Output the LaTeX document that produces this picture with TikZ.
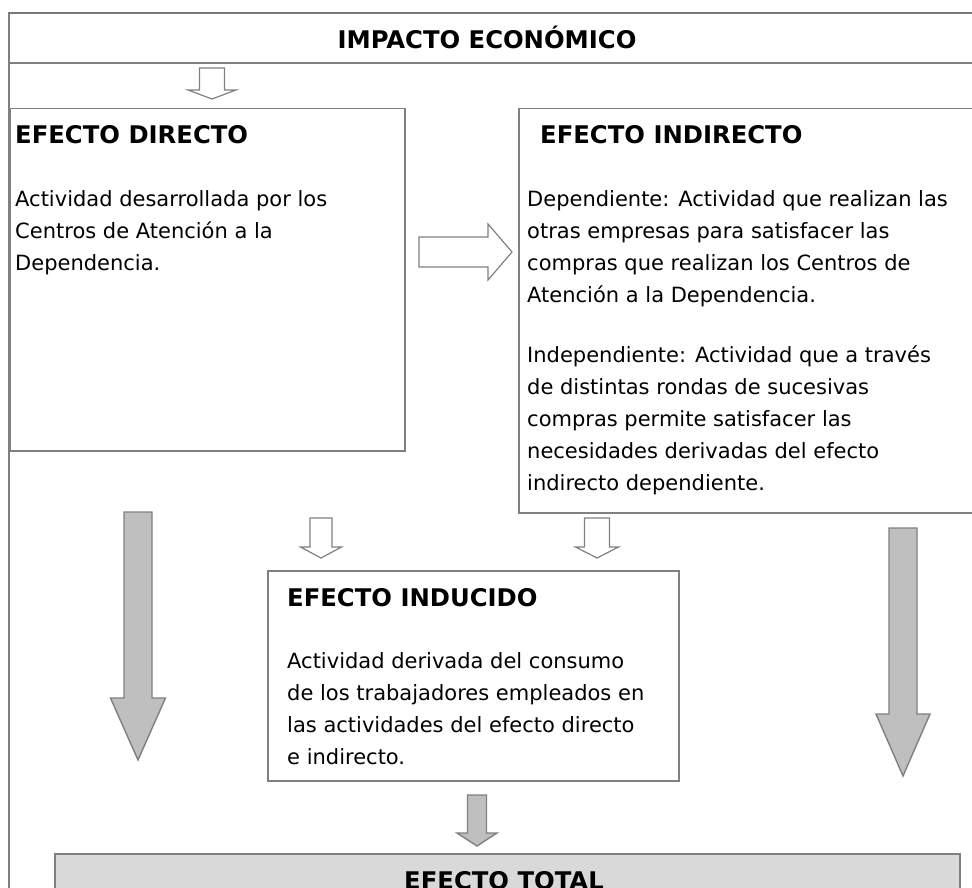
\documentclass[tikz,border=0pt]{standalone}
\usepackage{fontspec}
\setmainfont{DejaVu Sans}
\definecolor{lineg}{RGB}{128,128,128}
\definecolor{topg}{RGB}{120,120,120}
\definecolor{arrg}{RGB}{191,191,191}
\definecolor{totg}{RGB}{217,217,217}
\newcommand\bdown[7]{%
  \draw[#1] (#2-#6,-#3) -- (#2+#6,-#3) -- (#2+#6,-#4) -- (#2+#7,-#4) -- (#2,-#5)
    -- (#2-#7,-#4) -- (#2-#6,-#4) -- cycle;}
\tikzset{
  boxs/.style={draw=lineg, line width=1.5pt, fill=white},
  hollow/.style={draw=lineg, line width=1.2pt, fill=white, line join=miter},
  grayarr/.style={draw=lineg, line width=1.4pt, fill=arrg, line join=miter},
  ttl/.style={font=\bfseries\fontsize{24.3}{29}\selectfont, inner sep=0pt},
  bodytxt/.style={font=\fontsize{21}{32}\selectfont, align=left, inner sep=0pt},
}
\begin{document}
\begin{tikzpicture}[x=1pt,y=1pt]
\useasboundingbox (0,0) rectangle (972,-888);
\clip (0,0) rectangle (972,-888);
\fill[white] (0,0) rectangle (972,-888);
% outer frame
\draw[lineg, line width=1.5pt] (9,-900) -- (9,-13);
\draw[topg, line width=2.6pt] (8.3,-13) -- (985,-13);
\draw[lineg, line width=1.5pt] (9,-63) -- (985,-63);
\node[ttl, anchor=base] (tImp) at (487,-49) {IMPACTO ECONÓMICO};
% boxes
\node[boxs, anchor=north west, minimum width=395, minimum height=342] (bxDir) at (9,-108) {};
\node[boxs, anchor=north west, minimum width=470, minimum height=404] (bxInd) at (518,-108) {};
\node[boxs, anchor=north west, minimum width=411, minimum height=210] (bxInu) at (267,-570) {};
\node[boxs, fill=totg, anchor=north west, minimum width=905, minimum height=60] (bxTot) at (54,-853) {};
% titles
\node[ttl, anchor=base west] (tDir) at (15,-143) {EFECTO DIRECTO};
\node[ttl, anchor=base west] (tInd) at (540,-143) {EFECTO INDIRECTO};
\node[ttl, anchor=base west] (tInu) at (287,-606) {EFECTO INDUCIDO};
\node[ttl, anchor=base] (tTot) at (504,-889) {EFECTO TOTAL};
% body texts
\node[bodytxt, anchor=north west] (txDir) at (15,-186)
  {\rule{0pt}{20pt}Actividad desarrollada por los\\Centros de Atención a la\\Dependencia.};
\node[bodytxt, anchor=north west] (txInd) at (527,-186)
  {\rule{0pt}{20pt}Dependiente: Actividad que realizan las\\otras empresas para satisfacer las\\compras que realizan los Centros de\\Atención a la Dependencia.\\[28pt]Independiente: Actividad que a través\\de distintas rondas de sucesivas\\compras permite satisfacer las\\necesidades derivadas del efecto\\indirecto dependiente.};
\node[bodytxt, anchor=north west] (txInu) at (287,-648)
  {\rule{0pt}{20pt}Actividad derivada del consumo\\de los trabajadores empleados en\\las actividades del efecto directo\\e indirecto.};
% block arrows
\bdown{hollow}{212}{68}{90}{99}{12.5}{24}
\draw[hollow] (419,-237) -- (488,-237) -- (488,-224) -- (512,-252) -- (488,-280) -- (488,-267) -- (419,-267) -- cycle;
\bdown{hollow}{321}{518}{547}{558}{11}{20.5}
\bdown{hollow}{597}{518}{547}{558}{12.5}{21.5}
\bdown{grayarr}{138}{512}{698}{760}{14}{27.5}
\bdown{grayarr}{903}{528}{714}{776}{14}{27}
\bdown{grayarr}{477}{795}{833}{846}{9.5}{20}
\end{tikzpicture}
\end{document}
